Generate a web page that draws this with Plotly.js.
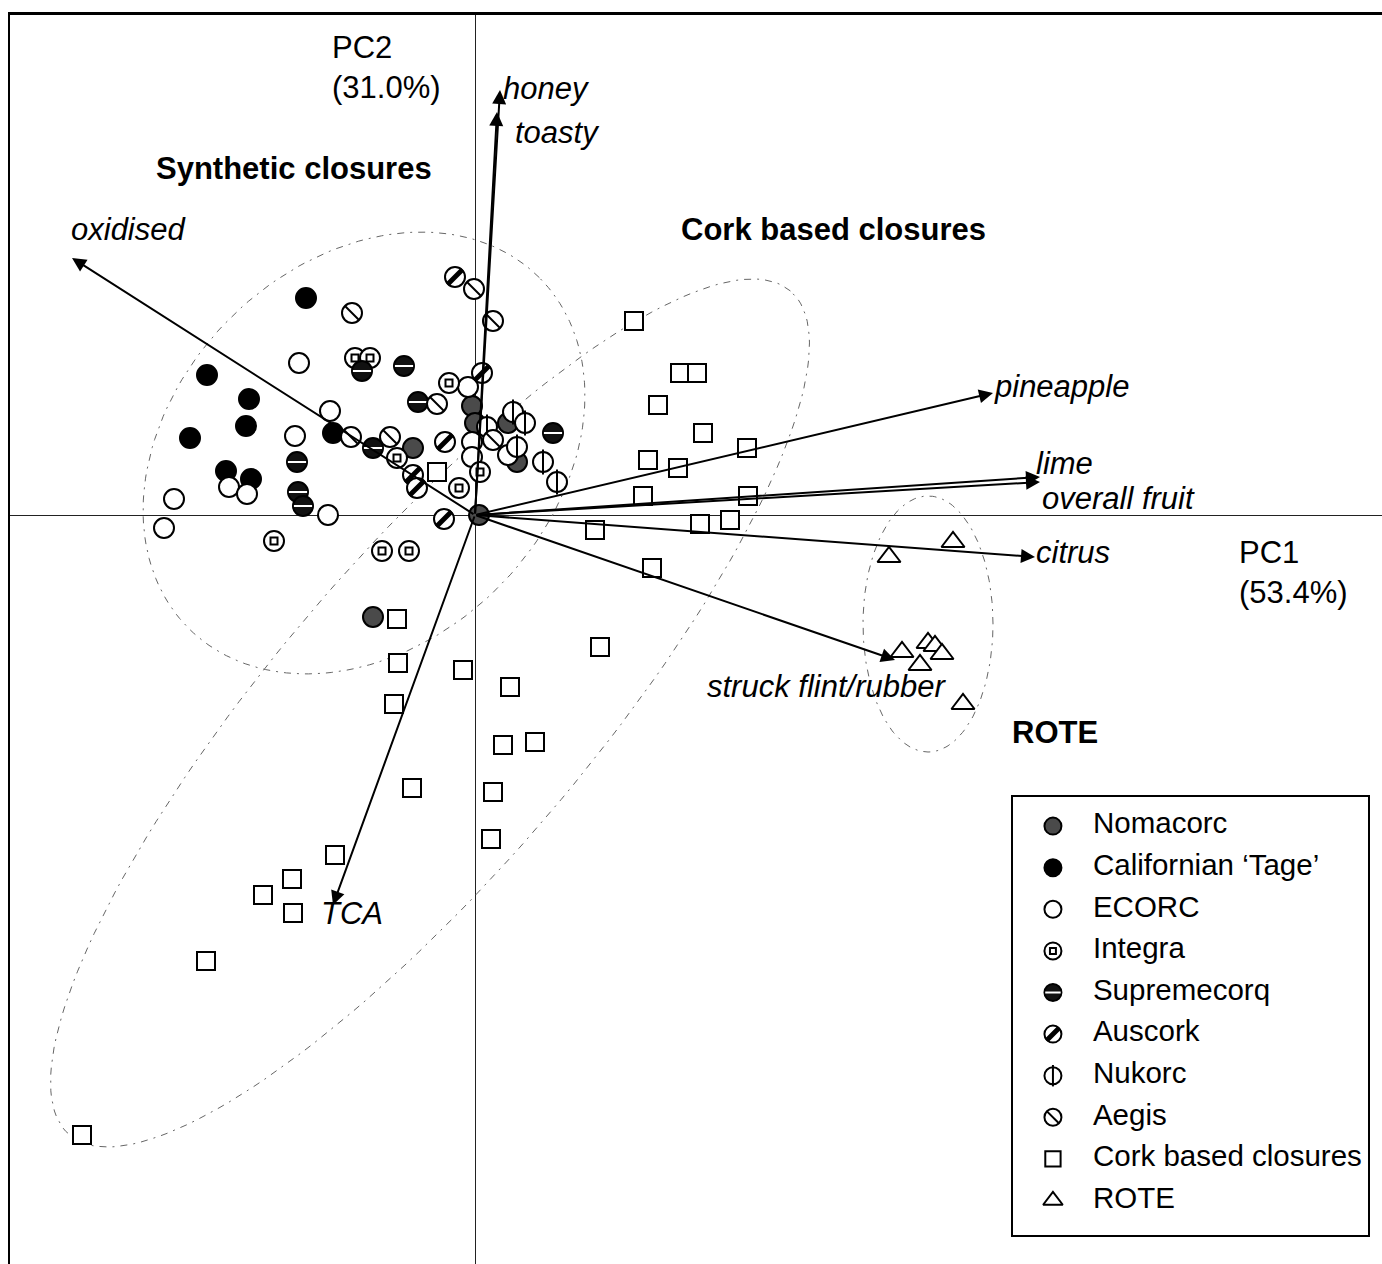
<!DOCTYPE html>
<html><head><meta charset="utf-8">
<script src="https://cdn.plot.ly/plotly-3.0.1.min.js"></script>
<style>html,body{margin:0;padding:0;background:#fff}</style>
</head><body>
<div id="chart" style="width:1382px;height:1264px"></div>
<script>
// ---------- DATA ----------
const categories = ["Nomacorc","Californian ‘Tage’","ECORC","Integra","Supremecorq","Auscork","Nukorc","Aegis","Cork based closures","ROTE"];

const nomacorcX = [-0.03, 0.00, 0.33, -0.62, 0.42, 0.04, -1.02];
const nomacorcY = [1.09, 0.92, 0.92, 0.67, 0.53, 0.00, -1.02];

const tageX = [-1.69, -2.68, -2.26, -2.29, -2.85, -2.49, -2.24, -1.42];
const tageY = [2.17, 1.40, 1.16, 0.89, 0.77, 0.44, 0.36, 0.82];

const ecorcX = [-1.76, -1.45, -1.80, -2.46, -2.28, -3.01, -3.11, -1.47, -0.07, -0.03, -0.03, 0.33];
const ecorcY = [1.52, 1.04, 0.79, 0.28, 0.21, 0.16, -0.13, 0.00, 1.28, 0.73, 0.58, 0.60];

const integraX = [-1.20, -1.05, -0.26, -0.78, 0.05, -0.16, -2.01, -0.93, -0.66];
const integraY = [1.57, 1.57, 1.32, 0.57, 0.43, 0.27, -0.26, -0.36, -0.36];

const supremecorqX = [-1.13, -0.71, -0.57, -1.02, 0.78, -1.78, -1.77, -1.72];
const supremecorqY = [1.44, 1.49, 1.13, 0.67, 0.82, 0.53, 0.23, 0.09];

const auscorkX = [-0.20, 0.07, -0.30, -0.62, -0.58, -0.31];
const auscorkY = [2.38, 1.42, 0.73, 0.40, 0.27, -0.04];

const nukorcX = [0.38, 0.50, 0.12, 0.42, 0.68, 0.82];
const nukorcY = [1.03, 0.92, 0.88, 0.68, 0.53, 0.33];

const aegisX = [-1.23, -0.01, 0.18, -0.38, -1.24, -0.85, 0.18];
const aegisY = [2.02, 2.26, 1.94, 1.11, 0.78, 0.78, 0.75];

const corkX = [1.59, 2.05, 2.22, 1.83, 2.28, 2.72, 1.73, 2.03, 1.68, 2.73, 2.25, 2.55, 1.20, 1.77, 1.25, 0.35,
               -0.38, -0.78, -0.77, -0.12, -0.81, 0.28, 0.60, -0.63, 0.18, 0.16, -1.40, -1.83, -2.12, -1.82, -2.69, -3.93];
const corkY = [1.94, 1.42, 1.42, 1.10, 0.82, 0.67, 0.55, 0.47, 0.19, 0.19, -0.09, -0.05, -0.15, -0.53, -1.32, -1.72,
               0.43, -1.04, -1.48, -1.55, -1.89, -2.30, -2.27, -2.73, -2.77, -3.24, -3.40, -3.64, -3.80, -3.98, -4.46, -6.20];

const roteX = [4.14, 4.78, 4.27, 4.45, 4.53, 4.60, 4.67, 4.88];
const roteY = [-0.42, -0.27, -1.37, -1.50, -1.28, -1.31, -1.39, -1.89];

// attribute loadings (arrow tips)
const attributes = ["honey", "toasty", "oxidised", "pineapple", "lime", "overall fruit", "citrus", "struck flint/rubber", "TCA"];
const loadingX = [0.25, 0.22, -4.03, 5.18, 5.65, 5.65, 5.60, 4.20, -1.42];
const loadingY = [4.25, 4.03, 2.57, 1.22, 0.38, 0.33, -0.42, -1.45, -3.90];

// group ellipses (centre, semi-axes, rotation in degrees)
const ellipseNames = ["Synthetic closures", "Cork based closures", "ROTE"];
const ellipseCX = [-1.11, -0.45, 4.53];
const ellipseCY = [0.62, -1.98, -1.09];
const ellipseA = [2.48, 5.55, 0.65];
const ellipseB = [1.90, 1.56, 1.28];
const ellipseAngle = [45, 49.5, 0];

// ---------- STYLES ----------
const groupX = [nomacorcX, tageX, ecorcX, integraX, supremecorqX, auscorkX, nukorcX, aegisX, corkX, roteX];
const groupY = [nomacorcY, tageY, ecorcY, integraY, supremecorqY, auscorkY, nukorcY, aegisY, corkY, roteY];
const styles = [
  {symbol:'circle', fill:'#4a4a4a', overlay:null},
  {symbol:'circle', fill:'#000000', overlay:null},
  {symbol:'circle', fill:'#ffffff', overlay:null},
  {symbol:'circle', fill:'#ffffff', overlay:{symbol:'square', size:7, fill:'#ffffff', width:2}},
  {symbol:'circle', fill:'#111111', overlay:{symbol:'line-ew', size:13, color:'#ffffff', width:2}},
  {symbol:'circle', fill:'#ffffff', overlay:{symbol:'line-ne', size:15, color:'#000000', width:5}},
  {symbol:'circle', fill:'#ffffff', overlay:{symbol:'line-ns', size:18, color:'#000000', width:2}},
  {symbol:'circle', fill:'#ffffff', overlay:{symbol:'line-nw', size:14, color:'#000000', width:2}},
  {symbol:'square', fill:'#ffffff', overlay:null},
  {symbol:'triangle-up', fill:'#ffffff', overlay:null}
];
const baseSize = [20, 20, 20, 20, 20, 20, 20, 20, 18, 20];
const FONT = "Liberation Sans, Arial, Helvetica, sans-serif";

const traces = [];

// ellipses
ellipseNames.forEach((n, k) => {
  const xs = [], ys = [];
  const th = ellipseAngle[k] * Math.PI / 180;
  for (let t = 0; t <= 360; t += 2) {
    const r = t * Math.PI / 180;
    const ex = ellipseA[k] * Math.cos(r), ey = ellipseB[k] * Math.sin(r);
    xs.push(ellipseCX[k] + ex * Math.cos(th) - ey * Math.sin(th));
    ys.push(ellipseCY[k] + ex * Math.sin(th) + ey * Math.cos(th));
  }
  traces.push({x: xs, y: ys, mode: 'lines', hoverinfo: 'skip', showlegend: false,
    line: {color: '#666', width: 1, dash: '7px,6px,2px,6px'}});
});

// points
function addGroup(i, xs, ys, xa, ya, scale) {
  const s = styles[i];
  traces.push({x: xs, y: ys, xaxis: xa, yaxis: ya, mode: 'markers', showlegend: false, name: categories[i],
    marker: {symbol: s.symbol, size: baseSize[i] * scale, color: s.fill, line: {color: '#000', width: 2}}});
  if (s.overlay) {
    const o = s.overlay;
    traces.push({x: xs, y: ys, xaxis: xa, yaxis: ya, mode: 'markers', showlegend: false, hoverinfo: 'skip',
      marker: {symbol: o.symbol, size: o.size * scale, color: o.fill || o.color,
               line: {color: o.symbol === 'square' ? '#000' : o.color, width: o.width}}});
  }
}
categories.forEach((c, i) => addGroup(i, groupX[i], groupY[i], 'x', 'y', 1));

// legend (drawn on its own small axis, one row per category)
categories.forEach((c, i) => addGroup(i, [0], [c], 'x2', 'y2', 0.85));
traces.push({x: categories.map(() => 1), y: categories, text: categories, xaxis: 'x2', yaxis: 'y2',
  mode: 'text', textposition: 'middle right', showlegend: false, hoverinfo: 'skip',
  textfont: {family: FONT, size: 29.5, color: '#000'}});

// ---------- ANNOTATIONS ----------
const annotations = [];
const labelPos = {
  "honey": ['left', 2, 2], "toasty": ['left', 17, -20], "oxidised": ['left', -2, 29],
  "pineapple": ['left', 0, 7], "lime": ['left', -5, 14], "overall fruit": ['left', 1, -16],
  "citrus": ['left', 0, 5], "struck flint/rubber": ['right', 52, -26], "TCA": ['left', -13, -8]
};
attributes.forEach((a, i) => {
  annotations.push({x: loadingX[i], y: loadingY[i], ax: 0, ay: 0, xref: 'x', yref: 'y', axref: 'x', ayref: 'y',
    text: '', showarrow: true, arrowhead: 2, arrowsize: 1.4, arrowwidth: 2, arrowcolor: '#000'});
  const p = labelPos[a];
  annotations.push({x: loadingX[i], y: loadingY[i], xref: 'x', yref: 'y', text: '<i>' + a + '</i>', showarrow: false,
    xanchor: p[0], xshift: p[1], yshift: p[2], borderpad: 0, font: {family: FONT, size: 31, color: '#000'}});
});
const txt = (x, y, t, anchor, bold) => annotations.push({x: x, y: y, xref: 'x', yref: 'y', showarrow: false,
  text: bold ? '<b>' + t + '</b>' : t, xanchor: anchor, align: 'left', font: {family: FONT, size: 31, color: '#000'}});
txt(-1.81, 3.47, ellipseNames[0], 'center', true);
txt(3.58, 2.86, ellipseNames[1], 'center', true);
txt(5.80, -2.17, ellipseNames[2], 'center', true);
txt(-1.45, 4.48, 'PC2<br>(31.0%)', 'left', false);
txt(7.62, -0.57, 'PC1<br>(53.4%)', 'left', false);

// ---------- LAYOUT ----------
const layout = {
  width: 1382, height: 1264,
  margin: {l: 10, r: 0, t: 15, b: 0},
  paper_bgcolor: '#fff', plot_bgcolor: '#fff',
  showlegend: false,
  xaxis: {range: [-4.65, 9.07], showgrid: false, showticklabels: false, ticks: '',
          zeroline: true, zerolinecolor: '#222', zerolinewidth: 1,
          showline: true, side: 'top', linecolor: '#000', linewidth: 3, mirror: false},
  yaxis: {range: [-7.49, 5.0], showgrid: false, showticklabels: false, ticks: '',
          zeroline: true, zerolinecolor: '#222', zerolinewidth: 1,
          showline: true, linecolor: '#000', linewidth: 2, mirror: false},
  xaxis2: {domain: [0.731, 0.9898], anchor: 'y2', range: [0, 355], showgrid: false, zeroline: false,
           showticklabels: false, ticks: '', showline: true, mirror: true, linecolor: '#000', linewidth: 2},
  yaxis2: {domain: [0.0232, 0.3739], anchor: 'x2', type: 'category', categoryarray: categories,
           range: [9.83, -0.7], showgrid: false, zeroline: false, showticklabels: false, ticks: '',
           showline: true, mirror: true, linecolor: '#000', linewidth: 2},
  annotations: annotations
};
// legend marker column and text column positions (in legend axis units)
traces.forEach(t => { if (t.xaxis === 'x2') { t.x = t.mode === 'text' ? t.x.map(() => 80) : [40]; } });

Plotly.newPlot('chart', traces, layout, {displayModeBar: false, staticPlot: true});
</script>
</body></html>
